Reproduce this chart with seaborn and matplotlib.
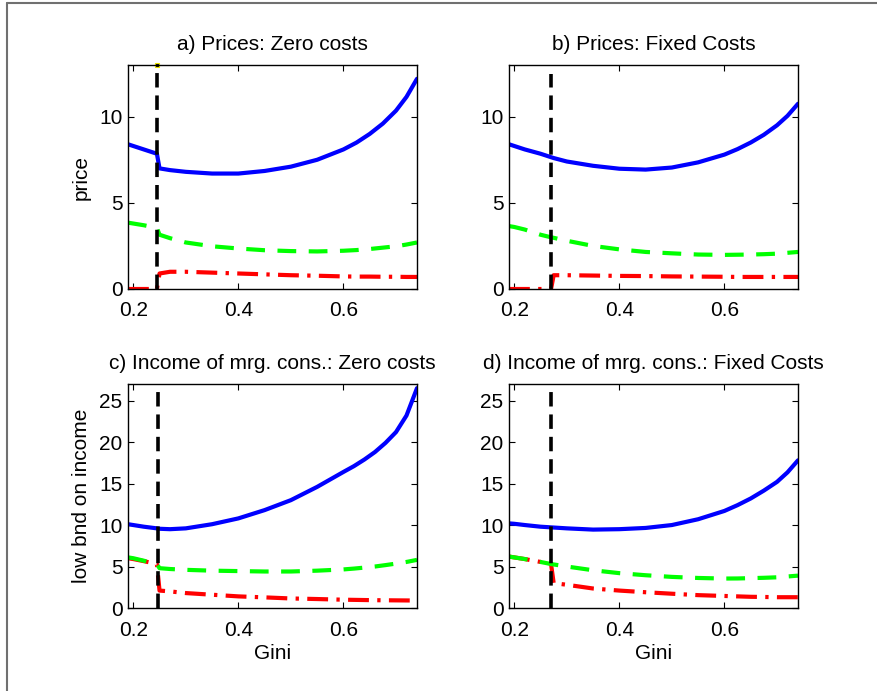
import numpy as np
import pandas as pd
import seaborn as sns
import matplotlib
matplotlib.use("Agg")
import matplotlib.pyplot as plt
from matplotlib.lines import Line2D

# ---- data ----
titles = ["a) Prices: Zero costs", "b) Prices: Fixed Costs",
          "c) Income of mrg. cons.: Zero costs", "d) Income of mrg. cons.: Fixed Costs"]

gini_a = [0.19, 0.2, 0.22, 0.245, 0.25, 0.27, 0.3, 0.35, 0.4, 0.45, 0.5, 0.55, 0.6, 0.625, 0.65, 0.675, 0.7, 0.72, 0.74]
blue_a = [8.4, 8.3, 8.1, 7.85, 7.0, 6.9, 6.8, 6.7, 6.7, 6.85, 7.1, 7.5, 8.1, 8.5, 9.0, 9.6, 10.35, 11.15, 12.2]
green_a = [3.85, 3.8, 3.7, 3.55, 3.15, 2.95, 2.7, 2.48, 2.35, 2.25, 2.2, 2.18, 2.22, 2.26, 2.32, 2.4, 2.48, 2.58, 2.7]
red_a = [0, 0, 0, 0, 0.9, 1.0, 1.0, 0.95, 0.9, 0.85, 0.8, 0.77, 0.73, 0.72, 0.72, 0.71, 0.71, 0.7, 0.7]

gini_b = [0.19, 0.2, 0.22, 0.25, 0.27, 0.275, 0.3, 0.35, 0.4, 0.45, 0.5, 0.55, 0.6, 0.625, 0.65, 0.675, 0.7, 0.72, 0.74]
blue_b = [8.4, 8.3, 8.1, 7.85, 7.65, 7.6, 7.4, 7.15, 6.98, 6.93, 7.05, 7.35, 7.8, 8.12, 8.5, 8.95, 9.5, 10.05, 10.75]
green_b = [3.65, 3.6, 3.45, 3.15, 3.0, 2.97, 2.8, 2.5, 2.3, 2.15, 2.07, 2.0, 1.98, 1.99, 2.0, 2.02, 2.05, 2.1, 2.15]
red_b = [0, 0, 0, 0, 0, 0.8, 0.8, 0.78, 0.76, 0.75, 0.73, 0.72, 0.71, 0.7, 0.7, 0.7, 0.7, 0.7, 0.7]

gini_c = [0.19, 0.2, 0.22, 0.245, 0.25, 0.27, 0.3, 0.35, 0.4, 0.45, 0.5, 0.55, 0.6, 0.62, 0.64, 0.66, 0.68, 0.7, 0.72, 0.74]
blue_c = [10.1, 10.0, 9.8, 9.6, 9.55, 9.5, 9.6, 10.1, 10.8, 11.8, 13.0, 14.6, 16.4, 17.1, 17.9, 18.8, 19.9, 21.2, 23.2, 26.5]
green_c = [6.1, 6.0, 5.7, 5.3, 4.8, 4.7, 4.6, 4.5, 4.45, 4.4, 4.4, 4.5, 4.65, 4.75, 4.87, 5.0, 5.17, 5.35, 5.55, 5.8]
red_c = [6.0, 5.9, 5.65, 5.3, 2.1, 2.0, 1.8, 1.6, 1.4, 1.28, 1.15, 1.08, 1.0, 0.98, 0.96, 0.94, 0.93, 0.92, 0.91, 0.9]

gini_d = [0.19, 0.2, 0.22, 0.25, 0.27, 0.275, 0.3, 0.35, 0.4, 0.45, 0.5, 0.55, 0.6, 0.625, 0.65, 0.675, 0.7, 0.72, 0.74]
blue_d = [10.2, 10.15, 10.0, 9.8, 9.72, 9.7, 9.6, 9.45, 9.5, 9.65, 10.0, 10.7, 11.7, 12.4, 13.2, 14.15, 15.2, 16.35, 17.8]
green_d = [6.2, 6.1, 5.9, 5.55, 5.3, 5.25, 5.0, 4.55, 4.2, 3.95, 3.75, 3.62, 3.55, 3.56, 3.6, 3.64, 3.7, 3.8, 3.9]
red_d = [6.2, 6.1, 5.9, 5.55, 5.3, 3.0, 2.8, 2.35, 2.1, 1.9, 1.72, 1.55, 1.45, 1.4, 1.35, 1.33, 1.3, 1.3, 1.3]

cutoff = [0.245, 0.27, 0.247, 0.27]
cutoff_top = [13, 12.5, 26, 26]

panels = [
    (gini_a, blue_a, green_a, red_a),
    (gini_b, blue_b, green_b, red_b),
    (gini_c, blue_c, green_c, red_c),
    (gini_d, blue_d, green_d, red_d),
]

sns.set_style("ticks", {"xtick.direction": "in", "ytick.direction": "in",
                        "axes.edgecolor": "black", "text.color": "black",
                        "axes.labelcolor": "black", "xtick.color": "black",
                        "ytick.color": "black"})
plt.rcParams["font.family"] = ["Liberation Sans", "DejaVu Sans"]
FS = 15
plt.rcParams["font.size"] = FS

fig = plt.figure(figsize=(8.77, 6.91), dpi=100)
W, H = 877, 691
boxes = [(128, 65), (509, 65), (128, 384), (509, 384)]
aw, ah = 289, 224

for i, (gx, gb, gg, gr) in enumerate(panels):
    l, t = boxes[i]
    ax = fig.add_axes([l / W, 1 - (t + ah) / H, aw / W, ah / H])
    df = pd.DataFrame({"gini": gx, "blue": gb, "green": gg, "red": gr})
    sns.lineplot(data=df, x="gini", y="red", ax=ax, color="#ff0000", lw=3,
                 estimator=None, sort=False, linestyle=(0, (5, 2, 0.8, 2)))
    sns.lineplot(data=df, x="gini", y="green", ax=ax, color="#00ff00", lw=3,
                 estimator=None, sort=False, linestyle=(0, (4.5, 3)))
    sns.lineplot(data=df, x="gini", y="blue", ax=ax, color="#0000ff", lw=3,
                 estimator=None, sort=False)
    ax.plot([cutoff[i], cutoff[i]], [0, cutoff_top[i]], color="black", lw=2.6,
            linestyle=(0, (4, 2.2)))
    if i == 0:
        ax.plot([cutoff[i]], [cutoff_top[i]], marker="s", ms=3.5, mfc="black",
                mec="#e8e000", mew=0.8, clip_on=False)

    ax.set_xlim(0.19, 0.74)
    ax.set_xticks([0.2, 0.4, 0.6])
    ax.set_xticklabels(["0.2", "0.4", "0.6"])
    if i < 2:
        ax.set_ylim(0, 13)
        ax.set_yticks([0, 5, 10])
    else:
        ax.set_ylim(0, 27)
        ax.set_yticks([0, 5, 10, 15, 20, 25])
    ax.tick_params(direction="in", length=4, width=0.8, top=True, right=True,
                   labelsize=FS, colors="black")
    ax.tick_params(axis="x", pad=9)
    ax.tick_params(axis="y", pad=4)
    for s in ax.spines.values():
        s.set_linewidth(1.0)
        s.set_color("black")
    ax.set_title(titles[i], fontsize=FS, pad=11, color="black")
    ax.set_xlabel("Gini" if i >= 2 else "", fontsize=FS, labelpad=3, color="black")
    ax.set_ylabel("", fontsize=FS)
    if i == 0:
        ax.set_ylabel("price", fontsize=FS, labelpad=6, color="black")
    if i == 2:
        ax.set_ylabel("low bnd on income", fontsize=FS, labelpad=6, color="black")

# gray outer frame: only the left and top edges are inside the picture
fig.add_artist(Line2D([7 / W, 7 / W], [0, 1 - 3 / H], transform=fig.transFigure,
                      color="#707070", lw=1.5))
fig.add_artist(Line2D([7 / W, 1], [1 - 3 / H, 1 - 3 / H], transform=fig.transFigure,
                      color="#707070", lw=1.5))

fig.savefig("out.png", dpi=100)
